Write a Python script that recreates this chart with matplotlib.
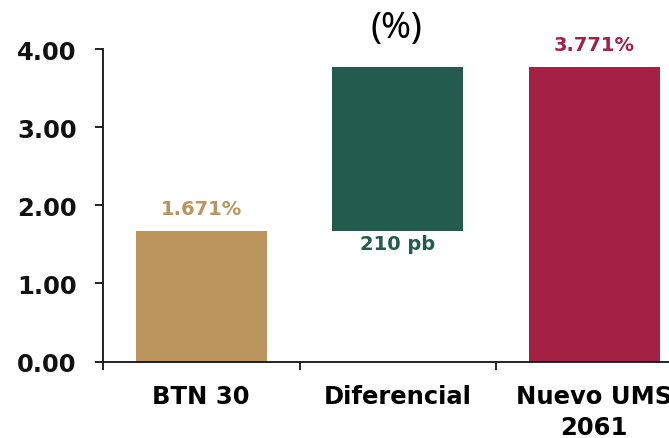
import matplotlib
matplotlib.use("Agg")
import matplotlib.pyplot as plt

categories = ["BTN 30", "Diferencial", "Nuevo UMS\n2061"]
btn30 = 1.671
spread_pb = 210
nuevo_ums = 3.771
colors = ["#BC955C", "#235B4E", "#A42145"]
yticks = [0.0, 1.0, 2.0, 3.0, 4.0]

spread = spread_pb / 100.0
bottoms = [0.0, btn30, 0.0]
heights = [btn30, spread, nuevo_ums]

plt.rcParams["font.family"] = ["DejaVu Sans"]

fig = plt.figure(figsize=(6.69, 4.39), dpi=100)
fig.patch.set_facecolor("white")
ax = fig.add_axes([103 / 669, 76.5 / 439, 589.5 / 669, 312.5 / 439])

x = list(range(len(categories)))
ax.bar(x, heights, bottom=bottoms, width=0.667, color=colors, zorder=2)

ax.set_xlim(-0.5, 2.5)
ax.set_ylim(0, 4.0)

for s in ["top", "right"]:
    ax.spines[s].set_visible(False)
for s in ["left", "bottom"]:
    ax.spines[s].set_linewidth(1.3)
    ax.spines[s].set_color("#111111")

ax.set_yticks(yticks)
ax.set_yticklabels([f"{v:.2f}" for v in yticks], fontsize=17.5, fontweight="bold")
ax.tick_params(axis="y", length=6, width=1.3, pad=13, colors="#111111")

ax.set_xticks(x)
ax.set_xticklabels(categories, fontsize=17.5, fontweight="bold", linespacing=1.35)
ax.tick_params(axis="x", which="major", length=0, pad=16.5)
ax.set_xticks([-0.5, 0.5, 1.5, 2.5], minor=True)
ax.tick_params(axis="x", which="minor", length=6, width=1.3, color="#111111")

ax.text(0, btn30 + 0.16, f"{btn30:.3f}%", ha="center", va="bottom",
        fontsize=14, fontweight="bold", color=colors[0])
ax.text(1, btn30 - 0.04, f"{spread_pb} pb", ha="center", va="top",
        fontsize=14, fontweight="bold", color=colors[1])
ax.text(2, nuevo_ums + 0.17, f"{nuevo_ums:.3f}%", ha="center", va="bottom",
        fontsize=14, fontweight="bold", color=colors[2])

fig.text(396 / 669, 1 - 29.5 / 439, "(%)", ha="center", va="center",
         fontsize=26, family="Noto Sans", fontweight="light")

fig.savefig("out.png", dpi=100)
